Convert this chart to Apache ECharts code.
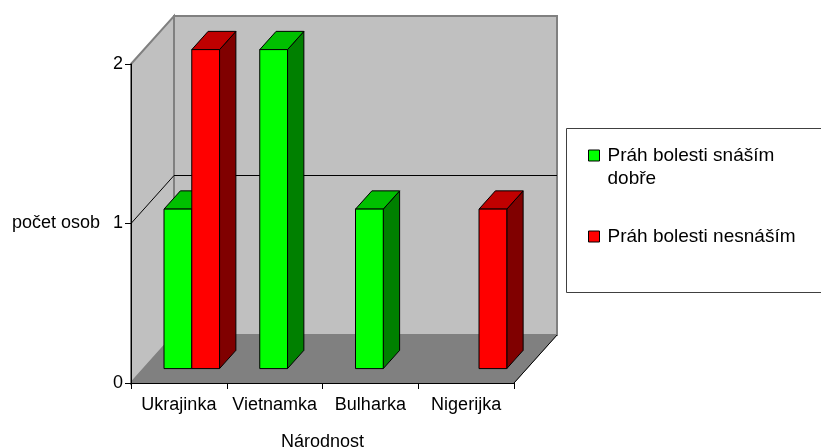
<!DOCTYPE html>
<html>
<head>
<meta charset="utf-8">
<script src="https://cdn.jsdelivr.net/npm/echarts@6/dist/echarts.min.js"></script>
<style>
  html, body { margin: 0; padding: 0; background: #fff; }
  #chart { width: 821px; height: 447px; }
</style>
</head>
<body>
<div id="chart"></div>
<script>
const categories = ['Ukrajinka', 'Vietnamka', 'Bulharka', 'Nigerijka'];
const snasimDobre = [1, 2, 1, 0];
const nesnasim = [2, 0, 0, 1];
const yTicks = [0, 1, 2];
const seriesNames = ['Práh bolesti snáším dobře', 'Práh bolesti nesnáším'];

// fake 3d: offset of the back wall in px, bars sit at FRONT..FRONT+DEPTH of it
const DX = 43, DY = -48;
const FRONT = 0.3, DEPTH = 0.38;
const BAR = 0.29; // bar width as part of a category band
const FONT = 'Liberation Sans, Arial, sans-serif';

const faces = [
  { front: '#00ff00', top: '#00c000', side: '#008000' },
  { front: '#ff0000', top: '#c00000', side: '#800000' }
];

function wallsItem(params, api) {
  const cs = params.coordSys;
  const x0 = cs.x, x1 = cs.x + cs.width;
  const yt = cs.y, yb = cs.y + cs.height;
  const wall = { fill: '#c0c0c0', stroke: '#808080', lineWidth: 2 };
  const children = [
    { type: 'polygon', shape: { points: [[x0, yb], [x0, yt], [x0 + DX, yt + DY], [x0 + DX, yb + DY]] }, style: wall },
    { type: 'rect', shape: { x: x0 + DX, y: yt + DY, width: cs.width, height: cs.height }, style: wall },
    { type: 'polygon', shape: { points: [[x0, yb], [x1, yb], [x1 + DX, yb + DY], [x0 + DX, yb + DY]] },
      style: { fill: '#808080', stroke: '#808080', lineWidth: 1 } },
    { type: 'line', shape: { x1: x1, y1: yb, x2: x1 + DX, y2: yb + DY }, style: { stroke: '#000', lineWidth: 1 } }
  ];
  // gridlines on side + back wall
  yTicks.slice(1, -1).forEach(function (v) {
    const y = api.coord([0, v])[1];
    children.push({
      type: 'polyline',
      shape: { points: [[x0, y], [x0 + DX, y + DY], [x1 + DX, y + DY]] },
      style: { stroke: '#000', lineWidth: 1, fill: null }
    });
  });
  return { type: 'group', children: children };
}

function barItem(s) {
  return function (params, api) {
    const i = api.value(0), v = api.value(1);
    if (!v) return null;
    const w = api.size([1, 0])[0] * BAR;
    const base = api.coord([i, 0]);
    const ox = FRONT * DX, oy = FRONT * DY;
    const dx = DEPTH * DX, dy = DEPTH * DY;
    const xl = base[0] - w + s * w + ox, xr = xl + w;
    const yb = base[1] + oy, yt = api.coord([i, v])[1] + oy;
    const f = faces[s];
    const st = { stroke: '#000', lineWidth: 1, lineJoin: 'round' };
    return {
      type: 'group',
      children: [
        { type: 'polygon', shape: { points: [[xr, yt], [xr + dx, yt + dy], [xr + dx, yb + dy], [xr, yb]] },
          style: Object.assign({ fill: f.side }, st) },
        { type: 'polygon', shape: { points: [[xl, yt], [xl + dx, yt + dy], [xr + dx, yt + dy], [xr, yt]] },
          style: Object.assign({ fill: f.top }, st) },
        { type: 'rect', shape: { x: xl, y: yt, width: w, height: yb - yt },
          style: Object.assign({ fill: f.front }, st) }
      ]
    };
  };
}

const chart = echarts.init(document.getElementById('chart'));
chart.setOption({
  animation: false,
  textStyle: { fontFamily: FONT },
  grid: { left: 131, right: 307, top: 64, bottom: 64, containLabel: false, outerBoundsMode: 'none' },
  graphic: [{
    type: 'rect',
    shape: { x: 566.5, y: 128.5, width: 270, height: 164 },
    style: { fill: '#fff', stroke: '#404040', lineWidth: 1 },
    silent: true
  }],
  legend: {
    orient: 'vertical',
    left: 588,
    top: 121,
    padding: 0,
    itemGap: 35,
    itemWidth: 11,
    itemHeight: 11,
    icon: 'rect',
    selectedMode: false,
    itemStyle: { borderColor: '#000', borderWidth: 1 },
    textStyle: { fontFamily: FONT, fontSize: 19, color: '#000', lineHeight: 23, padding: [0, 0, 0, 3] },
    formatter: function (name) {
      return name === seriesNames[0] ? '\n' + name.replace(' dobře', '\ndobře') : name;
    },
    data: seriesNames
  },
  xAxis: {
    type: 'category',
    data: categories,
    z: 10,
    axisLine: { lineStyle: { color: '#000', width: 1 } },
    axisTick: { show: true, length: 6, interval: 0, lineStyle: { color: '#000' } },
    axisLabel: { fontFamily: FONT, fontSize: 18, color: '#000', margin: 13, interval: 0 },
    splitLine: { show: false },
    name: 'Národnost',
    nameLocation: 'middle',
    nameGap: 50,
    nameTextStyle: { fontFamily: FONT, fontSize: 18, color: '#000' }
  },
  yAxis: {
    type: 'value',
    min: 0,
    max: 2,
    interval: 1,
    z: 10,
    axisLine: { show: true, lineStyle: { color: '#000', width: 1 } },
    axisTick: { show: true, length: 6, lineStyle: { color: '#000' } },
    axisLabel: { fontFamily: FONT, fontSize: 18, color: '#000', margin: 8 },
    splitLine: { show: false },
    name: 'počet osob',
    nameLocation: 'middle',
    nameRotate: 0,
    nameGap: 31,
    nameTextStyle: { fontFamily: FONT, fontSize: 18, color: '#000' }
  },
  series: [
    {
      type: 'custom',
      name: 'walls',
      silent: true,
      z: 1,
      clip: false,
      renderItem: wallsItem,
      data: [[0, 0]]
    },
    {
      type: 'custom',
      name: seriesNames[0],
      z: 2,
      clip: false,
      itemStyle: { color: faces[0].front },
      renderItem: barItem(0),
      data: categories.map(function (c, i) { return [i, snasimDobre[i]]; })
    },
    {
      type: 'custom',
      name: seriesNames[1],
      z: 2,
      clip: false,
      itemStyle: { color: faces[1].front },
      renderItem: barItem(1),
      data: categories.map(function (c, i) { return [i, nesnasim[i]]; })
    }
  ]
});
</script>
</body>
</html>
